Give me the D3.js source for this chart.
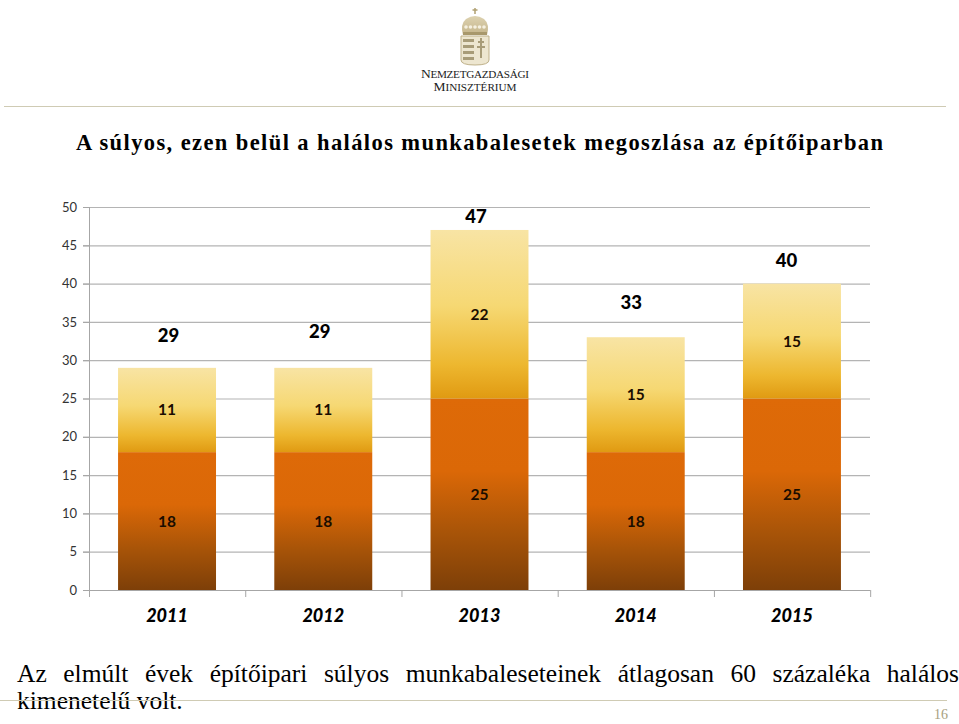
<!DOCTYPE html>
<html><head><meta charset="utf-8">
<script src="https://cdnjs.cloudflare.com/ajax/libs/d3/7.8.5/d3.min.js"></script>
<style>html,body{margin:0;padding:0;background:#fff}svg{display:block}</style>
</head><body><svg id="c" width="959" height="724"></svg>
<script>
const years=["2011","2012","2013","2014","2015"];
const severeOther=[18,18,25,18,25];
const fatal=[11,11,22,15,15];
const totals=[29,29,47,33,40];
const yTicks=[0,5,10,15,20,25,30,35,40,45,50];
const titleText="A súlyos, ezen belül a halálos munkabalesetek megoszlása az építőiparban";
const bodyLine1="Az elmúlt évek építőipari súlyos munkabaleseteinek átlagosan 60 százaléka halálos".split(" ");
const bodyLine2="kimenetelű volt.";
const logoLine1=[["N",13.5],["EMZETGAZDASÁGI",11.2]];
const logoLine2=[["M",13.5],["INISZTÉRIUM",11.2]];

const svg=d3.select("#c");
const defs=svg.append("defs");
function grad(id,stops){const g=defs.append("linearGradient").attr("id",id).attr("x1",0).attr("x2",0).attr("y1",0).attr("y2",1);
 stops.forEach(s=>g.append("stop").attr("offset",s[0]).attr("stop-color",s[1]));}
grad("gLow",[[0,"#DE6A08"],[0.38,"#DB6807"],[0.7,"#A85408"],[1,"#7D3F08"]]);
grad("gUp",[[0,"#F8E4A4"],[0.45,"#F6D873"],[0.8,"#EDB72F"],[1,"#E09A12"]]);
grad("gShield",[[0,"#DDD2B0"],[1,"#C4B48A"]]);

// chart
const x=d3.scaleBand().domain(years).range([89,870]).paddingInner(0.373).paddingOuter(0.186);
const y=d3.scaleLinear().domain([0,50]).range([590,207]);

const gridG=svg.append("g");
gridG.selectAll("line.g").data(yTicks.slice(1)).join("line")
 .attr("x1",83).attr("x2",870).attr("y1",d=>y(d)+.5).attr("y2",d=>y(d)+.5)
 .attr("stroke","#B4B4B4").attr("stroke-width",1.2);

const stack=years.map((yr,i)=>({yr,low:severeOther[i],up:fatal[i],total:totals[i]}));
const bars=svg.append("g");
bars.selectAll("rect.low").data(stack).join("rect").attr("class","low")
 .attr("x",d=>x(d.yr)).attr("width",x.bandwidth()).attr("y",d=>y(d.low)).attr("height",d=>y(0)-y(d.low)).attr("fill","url(#gLow)");
bars.selectAll("rect.up").data(stack).join("rect").attr("class","up")
 .attr("x",d=>x(d.yr)).attr("width",x.bandwidth()).attr("y",d=>y(d.low+d.up)).attr("height",d=>y(d.low)-y(d.low+d.up)).attr("fill","url(#gUp)");

// axes
const yAxis=d3.axisLeft(y).tickValues(yTicks).tickSize(6).tickPadding(6);
const ya=svg.append("g").attr("transform","translate(89,0)").call(yAxis);
ya.select(".domain").attr("stroke","#A6A6A6").attr("d","M0.5,207V590");
ya.selectAll(".tick line").attr("stroke","#A6A6A6");
ya.selectAll("text").attr("font-family","Lato").attr("font-size",13).attr("fill","#333");

const xa=svg.append("g");
xa.append("line").attr("x1",89).attr("x2",870).attr("y1",590.5).attr("y2",590.5).attr("stroke","#A6A6A6");
const edges=d3.range(6).map(i=>89+i*x.step());
xa.selectAll("line.t").data(edges).join("line").attr("class","t")
 .attr("x1",d=>d+.5).attr("x2",d=>d+.5).attr("y1",590).attr("y2",597).attr("stroke","#A6A6A6");
xa.selectAll("text").data(years).join("text")
 .attr("x",d=>x(d)+x.bandwidth()/2).attr("y",622).attr("text-anchor","middle")
 .attr("font-family","Lato").attr("font-weight",900).attr("font-style","italic").attr("font-size",18).attr("fill","#000").text(d=>d);

// data labels
const lab=svg.append("g").attr("font-family","Lato").attr("font-weight",700).attr("text-anchor","middle");
lab.selectAll("text.l").data(stack).join("text").attr("class","l")
 .attr("x",d=>x(d.yr)+x.bandwidth()/2).attr("y",d=>(y(0)+y(d.low))/2+5.5).attr("font-size",15.5).attr("fill","#1a0d00").text(d=>d.low);
lab.selectAll("text.u").data(stack).join("text").attr("class","u")
 .attr("x",d=>x(d.yr)+x.bandwidth()/2).attr("y",d=>(y(d.low)+y(d.low+d.up))/2+5.5).attr("font-size",15.5).attr("fill","#1a0d00").text(d=>d.up);
// total labels are hand-placed in the reference
const totalDx=[1.5,-3.5,-3.5,-4.5,-5.5], totalDy=[-26,-30,-6.5,-28.5,-17];
lab.selectAll("text.t").data(stack).join("text").attr("class","t")
 .attr("x",(d,i)=>x(d.yr)+x.bandwidth()/2+totalDx[i]).attr("y",(d,i)=>y(d.total)+totalDy[i]).attr("font-size",18.5).attr("font-weight",900).attr("fill","#000").text(d=>d.total);

// title
svg.append("text").attr("x",76).attr("y",150).attr("font-family","Liberation Serif").attr("font-weight",700)
 .attr("font-size",22.5).attr("textLength",807).attr("lengthAdjust","spacing").attr("fill","#000").text(titleText);

// body text
const bodyG=svg.append("g").attr("font-family","Liberation Serif").attr("font-size",25.5).attr("fill","#000");
const meas=bodyLine1.map(w=>{const t=bodyG.append("text").attr("y",-100).text(w);const l=t.node().getComputedTextLength();t.remove();return l;});
const gap=(959-17-d3.sum(meas))/(bodyLine1.length-1);
let cx=17;
bodyLine1.forEach((w,i)=>{bodyG.append("text").attr("x",cx).attr("y",682).text(w);cx+=meas[i]+gap;});
bodyG.append("text").attr("x",17).attr("y",709).text(bodyLine2);

// header / footer rules
svg.append("line").attr("x1",4).attr("x2",946).attr("y1",106.5).attr("y2",106.5).attr("stroke","#CFCBB4").attr("stroke-width",1.2);
svg.append("line").attr("x1",0).attr("x2",947).attr("y1",700.5).attr("y2",700.5).attr("stroke","#CFCBB4").attr("stroke-width",1.2);
svg.append("text").attr("x",948).attr("y",719).attr("text-anchor","end").attr("font-family","Liberation Serif").attr("font-size",14).attr("fill","#A89F80").text("16");

// logo
const logo=svg.append("g");
logo.append("path").attr("d","M461,36 L461,60 Q461,65 475,65 Q489,65 489,60 L489,36 Z").attr("fill","#EDE6D0").attr("stroke","#BFB18A");
logo.append("path").attr("d","M463,35 Q460,24 466,19 Q475,13 484,19 Q490,24 487,35 Z").attr("fill","url(#gShield)");
logo.selectAll("circle.c").data(d3.range(5)).join("circle").attr("class","c")
 .attr("cx",d=>466+d*4.5).attr("cy",27).attr("r",1.8).attr("fill","#F5F0E0");
logo.append("rect").attr("x",463).attr("y",32).attr("width",24).attr("height",3).attr("fill","#A8986C");
logo.append("path").attr("d","M475,8V14M472.5,10H477.5").attr("stroke","#B0A071").attr("stroke-width",1.5);
logo.selectAll("rect.s").data(d3.range(4)).join("rect").attr("class","s")
 .attr("x",463).attr("width",11).attr("height",3).attr("y",d=>39+d*6).attr("fill","#A89C78");
logo.append("path").attr("d","M481,38V58M478,42H484M477,47H485").attr("stroke","#A89C78").attr("stroke-width",2);
[[logoLine1,78,108],[logoLine2,91,83]].forEach(([parts,yy,len])=>{
 const t=logo.append("text").attr("x",475).attr("y",yy).attr("text-anchor","middle").attr("font-family","Liberation Serif").attr("fill","#222").attr("textLength",len);
 parts.forEach(p=>t.append("tspan").attr("font-size",p[1]).text(p[0]));
});
</script></body></html>
